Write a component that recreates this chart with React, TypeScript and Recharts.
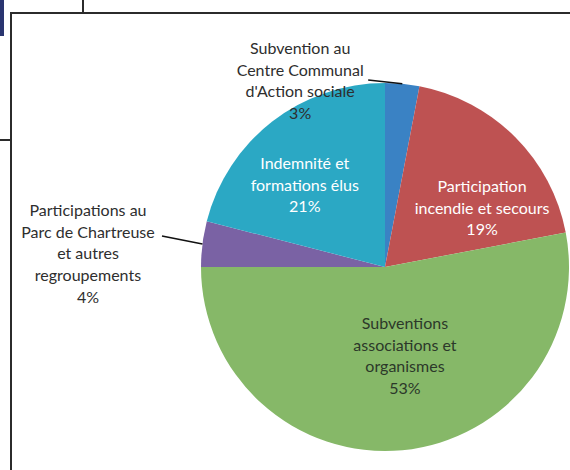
import React from "react";
import { PieChart, Pie, Cell } from "recharts";

const categories = [
  "Subvention au Centre Communal d'Action sociale",
  "Participation incendie et secours",
  "Subventions associations et organismes",
  "Participations au Parc de Chartreuse et autres regroupements",
  "Indemnité et formations élus",
];
const shares = [3, 19, 53, 4, 21];
const labelLines = [
  ["Subvention au", "Centre Communal", "d'Action sociale"],
  ["Participation", "incendie et secours"],
  ["Subventions", "associations et", "organismes"],
  ["Participations au", "Parc de Chartreuse", "et autres", "regroupements"],
  ["Indemnité et", "formations élus"],
];

const COLORS = ["#3a82c4", "#be5252", "#86b868", "#7a62a4", "#2ba8c4"];

// where each label block sits, relative to the slice's mid angle
const PLACEMENT = [
  { turn: 29.8, reach: 1.116, fill: "#2e2e2e", leader: { dx: 68, dy: 0 } },
  { turn: -13.3, reach: 0.62, fill: "#ffffff" },
  { turn: 7.4, reach: 0.49, fill: "#2c382a" },
  { turn: 4.5, reach: 1.616, fill: "#2e2e2e", leader: { dx: 74, dy: -17 } },
  { turn: 6.25, reach: 0.627, fill: "#ffffff" },
];

const RADIAN = Math.PI / 180;
const LINE_H = 21.7;

const data = categories.map((name, i) => ({ name, value: shares[i] }));

// eslint-disable-next-line @typescript-eslint/no-explicit-any
const renderLabel = (props: any) => {
  const { cx, cy, midAngle, outerRadius, index, value } = props;
  const p = PLACEMENT[index];
  const a = midAngle + p.turn;
  const r = outerRadius * p.reach;
  const x = cx + r * Math.cos(-a * RADIAN);
  const y = cy + r * Math.sin(-a * RADIAN);
  const lines = [...labelLines[index], `${value}%`];
  const top = y - ((lines.length - 1) / 2) * LINE_H;

  let leader = null;
  if (p.leader) {
    const ex = cx + outerRadius * Math.cos(-midAngle * RADIAN);
    const ey = cy + outerRadius * Math.sin(-midAngle * RADIAN);
    leader = (
      <path
        d={`M${x + p.leader.dx},${y + p.leader.dy}L${ex},${ey}`}
        stroke="#111"
        strokeWidth={1.6}
        fill="none"
      />
    );
  }

  return (
    <g>
      {leader}
      <text
        x={x}
        textAnchor="middle"
        fill={p.fill}
        style={{ fontFamily: "Lato, 'Open Sans', sans-serif", fontSize: 16 }}
      >
        {lines.map((l, i) => (
          <tspan key={i} x={x} y={top + i * LINE_H} dominantBaseline="central">
            {l}
          </tspan>
        ))}
      </text>
    </g>
  );
};

const line = (left: number, top: number, width: number, height: number, bg = "#2b2b2b") => (
  <div style={{ position: "absolute", left, top, width, height, background: bg }} />
);

export default function App() {
  return (
    <div style={{ position: "absolute", left: 0, top: 0, width: 570, height: 470, background: "#fff", overflow: "hidden" }}>
      {line(0, 0, 4, 36, "#2a3570")}
      {line(82, 0, 1.5, 12)}
      {line(0, 139, 10, 1.5)}
      {line(10, 12, 560, 1.5)}
      {line(10, 12, 1.5, 458)}
      <div style={{ position: "absolute", left: 0, top: 0 }}>
        <PieChart width={570} height={470} margin={{ top: 0, right: 0, bottom: 0, left: 0 }}>
          <Pie
            data={data}
            dataKey="value"
            nameKey="name"
            cx={385}
            cy={267}
            outerRadius={184}
            startAngle={90}
            endAngle={-270}
            stroke="none"
            label={renderLabel}
            labelLine={false}
            isAnimationActive={false}
          >
            {data.map((d, i) => (
              <Cell key={d.name} fill={COLORS[i]} />
            ))}
          </Pie>
        </PieChart>
      </div>
    </div>
  );
}
